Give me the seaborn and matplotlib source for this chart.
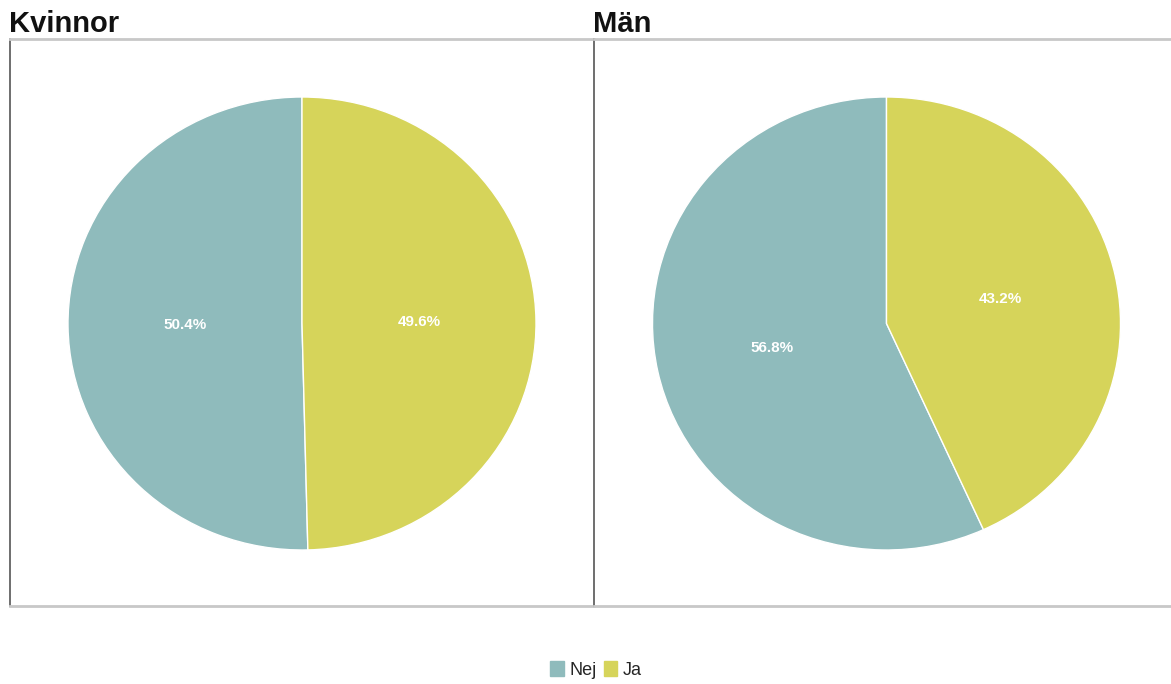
import matplotlib
matplotlib.use('Agg')
import matplotlib.pyplot as plt
import matplotlib.patches as mpatches
import seaborn as sns

# Data
groups = ['Kvinnor', 'Män']
categories = ['Nej', 'Ja']
nej_values = [50.4, 56.8]
ja_values = [49.6, 43.2]

sns.set_theme(style='white')
plt.rcParams['font.family'] = ['Liberation Sans', 'DejaVu Sans']
colors = sns.color_palette(['#8fbbbc', '#d6d45a'])

W, H = 1171, 684
fig = plt.figure(figsize=(W / 100, H / 100), dpi=100)
fig.patch.set_facecolor('white')

# axes boxes in pixels: (left, top, right, bottom), pie centre, radii
boxes = [(10, 39, 594, 606), (594, 39, 1171, 606)]
centres = [(302, 323.5), (886.5, 323.5)]
rx, ry = 234, 226.5

for i, group in enumerate(groups):
    l, t, r, b = boxes[i]
    ax = fig.add_axes([l / W, 1 - b / H, (r - l) / W, (b - t) / H])
    vals = [nej_values[i], ja_values[i]]
    ax.pie(vals, colors=colors, startangle=90, counterclock=True,
           autopct='%1.1f%%', pctdistance=0.5,
           wedgeprops=dict(edgecolor='white', linewidth=1),
           textprops=dict(color='white', fontsize=11, fontweight='bold'))
    cx, cy = centres[i]
    ax.set_aspect('auto')
    ax.set_xlim((l - cx) / rx, (r - cx) / rx)
    ax.set_ylim((cy - b) / ry, (cy - t) / ry)
    ax.set_frame_on(True)
    for side in ['top', 'bottom']:
        ax.spines[side].set_visible(True)
        ax.spines[side].set_color('#c8c8c8')
        ax.spines[side].set_linewidth(2)
    ax.spines['left'].set_visible(True)
    ax.spines['left'].set_color('#555555')
    ax.spines['left'].set_linewidth(1.2)
    ax.spines['right'].set_visible(False)
    ax.set_xticks([])
    ax.set_yticks([])
    ax.set_title(group, loc='left', fontsize=21, fontweight='bold',
                 color='#111111', pad=5, x=-0.002)

handles = [mpatches.Patch(color=colors[k], label=categories[k]) for k in range(2)]
fig.legend(handles=handles, loc='center', bbox_to_anchor=(596 / W, 1 - 670 / H),
           ncol=2, frameon=False, fontsize=13, handlelength=0.75, handleheight=0.9,
           handletextpad=0.3, columnspacing=0.4, borderpad=0)

fig.savefig('out.png', dpi=100)
